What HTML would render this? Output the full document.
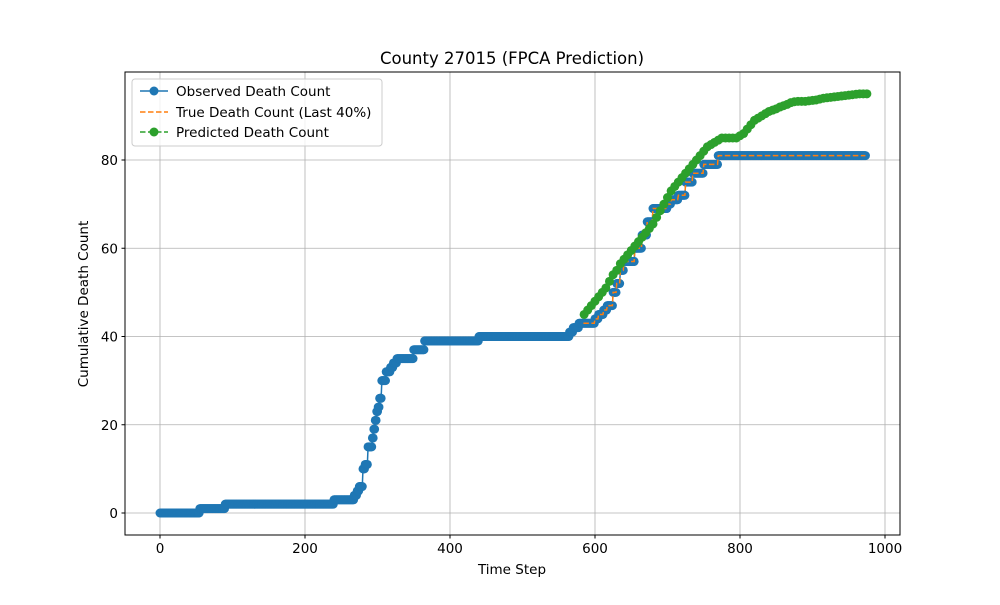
<!DOCTYPE html>
<html><head><meta charset="utf-8"><style>body{margin:0;background:#fff}svg{font-family:"DejaVu Sans","Liberation Sans",sans-serif}</style></head>
<body>
<svg id="chart" width="1000" height="600">
<rect width="1000" height="600" fill="#fff"/>
<g id="grid"></g>
<g id="series"></g>
<rect x="125" y="72" width="775" height="463" fill="none" stroke="#000" stroke-width="1"/>
<g id="ticks"></g>
<text x="512" y="64" font-size="16.5" text-anchor="middle">County 27015 (FPCA Prediction)</text>
<text x="512" y="574" font-size="13.5" text-anchor="middle">Time Step</text>
<text x="88" y="304" font-size="13.5" text-anchor="middle" transform="rotate(-90 88 304)">Cumulative Death Count</text>
<g>
<rect x="132" y="79" width="250" height="67" rx="3" fill="#fff" fill-opacity="0.8" stroke="#ccc"/>
<g><line x1="140" y1="91" x2="168" y2="91" stroke="#1f77b4" stroke-width="1.5"/><circle cx="154" cy="91" r="4.5" fill="#1f77b4"/><text x="176" y="96" font-size="13.5">Observed Death Count</text></g>
<g><line x1="140" y1="112" x2="168" y2="112" stroke="#ff7f0e" stroke-width="1.5" stroke-dasharray="5.5,2.5"/><text x="176" y="117" font-size="13.5">True Death Count (Last 40%)</text></g>
<g><line x1="140" y1="132" x2="168" y2="132" stroke="#2ca02c" stroke-width="1.5" stroke-dasharray="5.5,2.5"/><circle cx="154" cy="132" r="4.5" fill="#2ca02c"/><text x="176" y="137" font-size="13.5">Predicted Death Count</text></g>
</g>
</svg>
<script>
const xTicks=[0,200,400,600,800,1000];
const yTicks=[0,20,40,60,80];
// observed: change points [time, value]
const obsTimes=[0,55,90,240,265,268,272,275,280,283,287,293,295,297,299,301,303,306,312,318,322,327,350,365,385,440,565,570,578,600,605,612,617,625,630,635,640,655,665,672,680,700,705,715,725,735,750,770];
const obsVals=[0,1,2,3,3,4,5,6,10,11,15,17,19,21,23,24,26,30,32,33,34,35,37,39,39,40,41,42,43,44,45,46,47,50,52,55,57,60,63,66,69,70,71,72,75,77,79,81];
const lastT=973, splitT=584;
// predicted values every 5 steps from 585
const predStart=585, predStep=5;
const predVals=[45,46,47,48,49,50,51,52.5,54,55,56.5,57.5,58.5,59.5,60.5,61.5,62.5,63.5,64.5,65.5,67,68.5,70,71.5,73,74,75,76,77,78,79,80,81,82,83,83.5,84,84.5,85,85,85,85,85,85.5,86,87,88,89,89.5,90,90.5,91,91.3,91.6,92,92.3,92.6,93,93.2,93.3,93.3,93.3,93.4,93.5,93.6,93.8,94,94.1,94.2,94.3,94.4,94.5,94.6,94.7,94.8,94.9,95,95,95];
const X=v=>160+v*0.725, Y=v=>513-v*4.4125;
const NS="http://www.w3.org/2000/svg";
function mk(p,t,a){const e=document.createElementNS(NS,t);for(const k in a)e.setAttribute(k,a[k]);p.appendChild(e);return e;}
const grid=document.getElementById('grid'),ticks=document.getElementById('ticks'),ser=document.getElementById('series');
xTicks.forEach(t=>{const x=X(t);
const g=mk(grid,'line',{x1:x,x2:x,y1:72,y2:535,stroke:'#b0b0b0','stroke-width':0.8});

mk(ticks,'line',{x1:x,x2:x,y1:535,y2:538.5,stroke:'#000'});
const l=mk(ticks,'text',{x:x,y:553,'font-size':13.5,'text-anchor':'middle'});l.textContent=t;
});
yTicks.forEach(t=>{const y=Y(t);
const g=mk(grid,'line',{x1:125,x2:900,y1:y,y2:y,stroke:'#b0b0b0','stroke-width':0.8});

mk(ticks,'line',{x1:121.5,x2:125,y1:y,y2:y,stroke:'#000'});
const l=mk(ticks,'text',{x:118,y:y+5,'font-size':13.5,'text-anchor':'end'});l.textContent=t;
});
// expand observed step function
const obs=[];let k=0;
for(let t=0;t<=lastT;t++){while(k+1<obsTimes.length&&obsTimes[k+1]<=t)k++;obs.push(obsVals[k]);}
let d='';obs.forEach((v,t)=>d+=(t?'L':'M')+X(t)+' '+Y(v));
const ol=mk(ser,'path',{d:d,fill:'none',stroke:'#1f77b4','stroke-width':1.5});

const og=mk(ser,'g',{fill:'#1f77b4'});

obs.forEach((v,t)=>mk(og,'circle',{cx:X(t),cy:Y(v),r:4.5}));
let d2='';for(let t=splitT;t<=lastT;t++)d2+=(t==splitT?'M':'L')+X(t)+' '+Y(obs[t]);
const tl=mk(ser,'path',{d:d2,fill:'none',stroke:'#ff7f0e','stroke-width':1.5,'stroke-dasharray':'5.5,2.5'});

let d3='';predVals.forEach((v,i)=>d3+=(i?'L':'M')+X(predStart+i*predStep)+' '+Y(v));
const pl=mk(ser,'path',{d:d3,fill:'none',stroke:'#2ca02c','stroke-width':1.5,'stroke-dasharray':'5.5,2.5'});

const pg=mk(ser,'g',{fill:'#2ca02c'});

predVals.forEach((v,i)=>mk(pg,'circle',{cx:X(predStart+i*predStep),cy:Y(v),r:4.5}));
</script>
</body></html>
